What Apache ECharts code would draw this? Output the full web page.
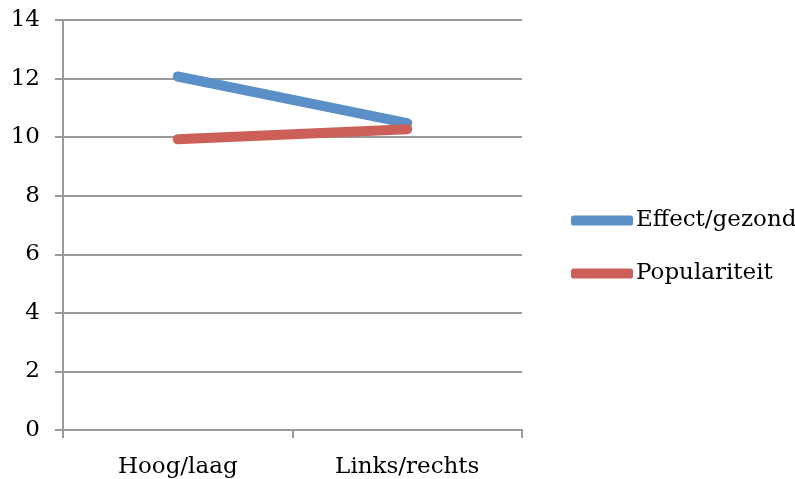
<!DOCTYPE html>
<html>
<head>
<meta charset="utf-8">
<script src="https://cdn.jsdelivr.net/npm/echarts@6/dist/echarts.min.js"></script>
<style>html,body{margin:0;padding:0;background:#fff}#c{width:795px;height:479px}</style>
</head>
<body>
<div id="c"></div>
<script>
const categories = ['Hoog/laag', 'Links/rechts'];
const effectGezond = [12.07, 10.48];
const populariteit = [9.93, 10.27];
const yTicks = [0, 2, 4, 6, 8, 10, 12, 14];

const font = 'DejaVu Serif';
const fs = 23;
const chart = echarts.init(document.getElementById('c'));
chart.setOption({
  animation: false,
  backgroundColor: '#fff',
  textStyle: { fontFamily: font },
  grid: { left: 63, right: 273, top: 20, bottom: 45 },
  legend: {
    orient: 'vertical',
    left: 566,
    top: 204,
    itemWidth: 62,
    itemHeight: 10,
    itemGap: 30,
    icon: 'roundRect',
    textStyle: { fontFamily: font, fontSize: fs, color: '#000', padding: [0, 0, 0, -2] },
    data: ['Effect/gezond', 'Populariteit']
  },
  xAxis: {
    type: 'category',
    data: categories,
    boundaryGap: true,
    axisLine: { lineStyle: { color: '#999', width: 2 } },
    axisTick: { show: true, length: 8, lineStyle: { color: '#999', width: 2 } },
    axisLabel: { fontFamily: font, fontSize: fs, color: '#000', margin: 26 }
  },
  yAxis: {
    type: 'value',
    min: yTicks[0],
    max: yTicks[yTicks.length - 1],
    interval: 2,
    axisLine: { show: true, lineStyle: { color: '#999', width: 2 } },
    axisTick: { show: true, length: 8, lineStyle: { color: '#999', width: 2 } },
    splitLine: { lineStyle: { color: '#999', width: 2 } },
    axisLabel: { fontFamily: font, fontSize: fs, color: '#000', margin: 23 }
  },
  series: [
    {
      name: 'Effect/gezond', type: 'line', data: effectGezond,
      symbol: 'none', color: '#5b8fc7',
      lineStyle: { width: 10, color: '#5b8fc7', cap: 'round' }
    },
    {
      name: 'Populariteit', type: 'line', data: populariteit,
      symbol: 'none', color: '#cc6058',
      lineStyle: { width: 10, color: '#cc6058', cap: 'round' }
    }
  ]
});
</script>
</body>
</html>
